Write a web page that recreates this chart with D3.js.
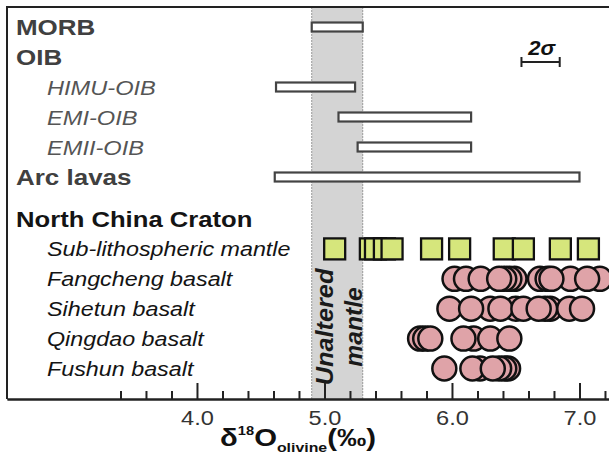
<!DOCTYPE html>
<html>
<head>
<meta charset="utf-8">
<script src="https://cdn.jsdelivr.net/npm/d3@7"></script>
<style>
  body { margin: 0; background: #fff; }
  text { font-family: "Liberation Sans", Arial, sans-serif; }
</style>
</head>
<body>
<svg id="chart"></svg>
<script>
// rows of the two panels
const rowsTop = ["MORB", "OIB", "HIMU-OIB", "EMI-OIB", "EMII-OIB", "Arc lavas"];
const rowsNcc = ["North China Craton", "Sub-lithospheric mantle", "Fangcheng basalt", "Sihetun basalt", "Qingdao basalt", "Fushun basalt"];
const headerRows = ["MORB", "OIB", "Arc lavas", "North China Craton"];

// ranges for reservoirs (d18O olivine, permil)
const rangeNames = ["MORB", "HIMU-OIB", "EMI-OIB", "EMII-OIB", "Arc lavas"];
const rangeMin = [4.9, 4.62, 5.11, 5.26, 4.61];
const rangeMax = [5.3, 5.24, 6.15, 6.15, 7.0];

// unaltered mantle band
const mantleBand = [4.9, 5.3];

// North China Craton samples
const subLithMantle = [5.08, 5.36, 5.40, 5.47, 5.53, 5.84, 6.06, 6.41, 6.56, 6.85, 7.07];
const fangcheng = [6.02, 6.11, 6.225, 6.49, 6.45, 6.41, 6.37, 6.69, 6.75, 6.93, 6.78, 7.16, 7.06];
const sihetun = [5.98, 6.30, 6.15, 6.50, 6.38, 6.56, 6.77, 6.73, 6.68, 6.92, 7.02];
const qingdao = [5.75, 5.79, 5.83, 6.17, 6.09, 6.30, 6.45];
const fushun = [5.94, 6.22, 6.16, 6.44, 6.41, 6.37, 6.32];

const twoSigma = 0.3;
const majorTicks = [4.0, 5.0, 6.0, 7.0];
const minorTicks = [3.4, 3.6, 3.8, 4.2, 4.4, 4.6, 4.8, 5.2, 5.4, 5.6, 5.8, 6.2, 6.4, 6.6, 6.8, 7.2];

// dimensions
const width = 609;
const height = 468;
const frameLeft = 7, frameTop = 7, axisY = 399;
const stretch = 1.18;

const svg = d3.select("#chart")
  .attr("width", width)
  .attr("height", height);

const x = d3.scaleLinear()
  .domain([2.51, 7.3])
  .range([frameLeft, frameLeft + 4.79 * 127.5]);

const yTop = d3.scalePoint()
  .domain(rowsTop)
  .range([27, 177]);

const yNcc = d3.scalePoint()
  .domain(rowsNcc)
  .range([219, 368.5]);

// widen text a little, the original lettering is broad
function widen(sel, k) {
  sel.each(function() {
    const w = this.getComputedTextLength();
    d3.select(this).attr("textLength", w * k).attr("lengthAdjust", "spacingAndGlyphs");
  });
}

// unaltered mantle band
svg.append("rect")
  .attr("x", x(mantleBand[0]))
  .attr("y", frameTop)
  .attr("width", x(mantleBand[1]) - x(mantleBand[0]))
  .attr("height", axisY - frameTop)
  .attr("fill", "#d4d4d4");

svg.selectAll(".band-edge")
  .data(mantleBand)
  .join("line")
  .attr("class", "band-edge")
  .attr("x1", d => x(d))
  .attr("x2", d => x(d))
  .attr("y1", frameTop)
  .attr("y2", axisY)
  .attr("stroke", "#999")
  .attr("stroke-width", 1)
  .attr("stroke-dasharray", "2,1");

// range bars
svg.selectAll(".range")
  .data(rangeNames)
  .join("rect")
  .attr("class", "range")
  .attr("x", (d, i) => x(rangeMin[i]))
  .attr("width", (d, i) => x(rangeMax[i]) - x(rangeMin[i]))
  .attr("y", d => yTop(d) - 4.5)
  .attr("height", 9)
  .attr("fill", "#fff")
  .attr("stroke", "#444")
  .attr("stroke-width", 2.2);

// labels
const labelsTop = svg.append("g").selectAll("text")
  .data(rowsTop)
  .join("text")
  .attr("x", d => headerRows.includes(d) ? 16 : 47)
  .attr("y", d => yTop(d) + 7.5)
  .attr("font-size", d => headerRows.includes(d) ? "22px" : "20px")
  .attr("font-weight", d => headerRows.includes(d) ? "bold" : "normal")
  .attr("font-style", d => headerRows.includes(d) ? "normal" : "italic")
  .attr("fill", d => headerRows.includes(d) ? "#404040" : "#555")
  .text(d => d);
widen(labelsTop, stretch);

const labelsNcc = svg.append("g").selectAll("text")
  .data(rowsNcc)
  .join("text")
  .attr("x", d => headerRows.includes(d) ? 16 : 47)
  .attr("y", d => yNcc(d) + 7.5)
  .attr("font-size", d => headerRows.includes(d) ? "22px" : "20px")
  .attr("font-weight", d => headerRows.includes(d) ? "bold" : "normal")
  .attr("font-style", d => headerRows.includes(d) ? "normal" : "italic")
  .attr("fill", "#141414")
  .text(d => d);
widen(labelsNcc, 1.165);

// unaltered mantle text
const bandText = svg.append("g")
  .attr("font-size", "23px")
  .attr("font-weight", "bold")
  .attr("font-style", "italic")
  .attr("fill", "#1a1a1a")
  .attr("text-anchor", "middle");

bandText.append("text")
  .attr("transform", `translate(${x(mantleBand[0]) + 21},327) rotate(-90)`)
  .text("Unaltered")
  .call(widen, 1.1);

bandText.append("text")
  .attr("transform", `translate(${x(mantleBand[1]) - 0.5},327) rotate(-90)`)
  .text("mantle")
  .call(widen, 1.07);

// sub-lithospheric mantle squares
const side = 21;
svg.append("g").selectAll("rect")
  .data(subLithMantle)
  .join("rect")
  .attr("x", d => x(d) - side / 2)
  .attr("y", yNcc("Sub-lithospheric mantle") - side / 2)
  .attr("width", side)
  .attr("height", side)
  .attr("fill", "#d6e67c")
  .attr("stroke", "#111")
  .attr("stroke-width", 2.3);

// basalt circles
const basalts = [
  { name: "Fangcheng basalt", values: fangcheng },
  { name: "Sihetun basalt", values: sihetun },
  { name: "Qingdao basalt", values: qingdao },
  { name: "Fushun basalt", values: fushun }
];

basalts.forEach(b => {
  svg.append("g").selectAll("circle")
    .data(b.values)
    .join("circle")
    .attr("cx", d => x(d))
    .attr("cy", yNcc(b.name))
    .attr("r", 12)
    .attr("fill", "#dfa3a8")
    .attr("stroke", "#111")
    .attr("stroke-width", 2.5);
});

// 2 sigma scale bar
const sigmaStart = 6.545;
const sigma = svg.append("g")
  .attr("stroke", "#222")
  .attr("stroke-width", 2);
sigma.append("line")
  .attr("x1", x(sigmaStart)).attr("x2", x(sigmaStart + twoSigma))
  .attr("y1", 62).attr("y2", 62);
sigma.selectAll(".cap")
  .data([sigmaStart, sigmaStart + twoSigma])
  .join("line")
  .attr("class", "cap")
  .attr("x1", d => x(d)).attr("x2", d => x(d))
  .attr("y1", 57).attr("y2", 67);

svg.append("text")
  .attr("x", x(sigmaStart + twoSigma / 2) + 1)
  .attr("y", 55)
  .attr("text-anchor", "middle")
  .attr("font-size", "20px")
  .attr("font-weight", "bold")
  .attr("font-style", "italic")
  .attr("fill", "#111")
  .text("2σ")
  .call(widen, 1.1);

// frame: left and top edges
svg.append("path")
  .attr("d", `M${frameLeft},${axisY}V${frameTop}H${width}`)
  .attr("fill", "none")
  .attr("stroke", "#222")
  .attr("stroke-width", 2);

// x axis with inward ticks
const axisMinor = svg.append("g")
  .attr("transform", `translate(0,${axisY})`)
  .call(d3.axisBottom(x).tickValues(minorTicks).tickSize(-8).tickSizeOuter(0).tickFormat(""));

const axisMajor = svg.append("g")
  .attr("transform", `translate(0,${axisY})`)
  .call(d3.axisBottom(x).tickValues(majorTicks).tickSize(-16).tickSizeOuter(0).tickPadding(12).tickFormat(d3.format(".1f")));

[axisMinor, axisMajor].forEach(a => {
  a.select(".domain").attr("stroke", "#222").attr("stroke-width", 2);
  a.selectAll(".tick line").attr("stroke", "#222").attr("stroke-width", 2);
});

axisMajor.selectAll(".tick text")
  .attr("font-size", "20px")
  .attr("font-family", "Liberation Sans, Arial, sans-serif")
  .attr("fill", "#333")
  .call(widen, 1.18);

// axis title
const title = svg.append("text")
  .attr("transform", "translate(298,446) scale(1.22,1)")
  .attr("text-anchor", "middle")
  .attr("font-weight", "bold")
  .attr("font-size", "24px")
  .attr("fill", "#111");
title.append("tspan").text("δ");
title.append("tspan").attr("font-size", "12px").attr("dy", -11).text("18");
title.append("tspan").attr("dy", 11).text("O");
title.append("tspan").attr("font-size", "13px").attr("dy", 6).text("olivine");
title.append("tspan").attr("dy", -6).text("(‰)");
</script>
</body>
</html>
